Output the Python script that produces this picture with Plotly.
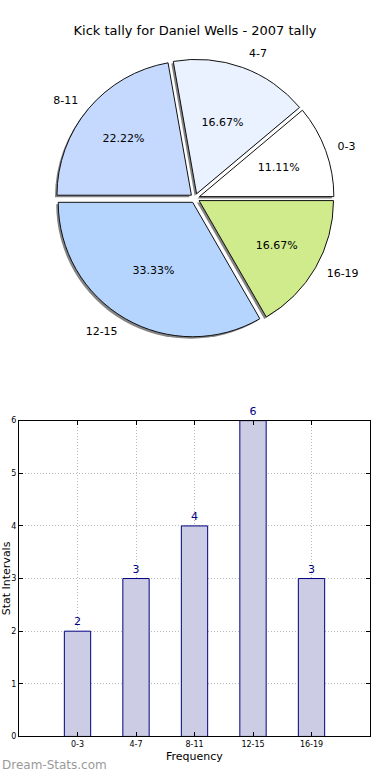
import plotly.graph_objects as go

# ---- data ----
categories = ["0-3", "4-7", "8-11", "12-15", "16-19"]
counts = [2, 3, 4, 6, 3]
pie_colors = ["#ffffff", "#eaf2ff", "#c5d9ff", "#b5d5ff", "#cfeb8c"]
y_ticks = [0, 1, 2, 3, 4, 5, 6]

W, H = 390, 780
FONT = "DejaVu Sans"


def px_x(x):
    return x / W


def px_y(y):
    return 1 - y / H


def dom(cx, cy, r, pull=0.0):
    h = r * (1 + pull)
    return dict(x=[px_x(cx - h), px_x(cx + h)], y=[px_y(cy + h), px_y(cy - h)])


# pie geometry (pixels)
cx, cy, R, pull = 195, 196.5, 136, 0.035
shadow_dx, shadow_dy = -2, 2
label_R = 150
ROT = 50
N = len(counts)
clear = ["rgba(0,0,0,0)"] * N

fig = go.Figure()

# shadow
fig.add_trace(go.Pie(
    labels=categories, values=counts, sort=False, direction="counterclockwise",
    rotation=ROT, pull=[pull] * N,
    marker=dict(colors=["rgba(110,110,110,0.85)"] * N, line=dict(width=0)),
    textinfo="none", hoverinfo="skip",
    domain=dom(cx + shadow_dx, cy + shadow_dy, R, pull),
))

# main pie
fig.add_trace(go.Pie(
    labels=categories, values=counts, sort=False, direction="counterclockwise",
    rotation=ROT, pull=[pull] * N,
    marker=dict(colors=pie_colors, line=dict(color="#111111", width=1)),
    texttemplate="%{percent:.2%}",
    textposition=["none", "none", "none", "none", "inside"],
    insidetextorientation="horizontal",
    textfont=dict(family=FONT, size=11, color="black"),
    domain=dom(cx, cy, R, pull),
))

# transparent pies placing the percentages of the smaller / larger wedges
for scale, pos in [(0.85, ["inside", "inside", "none", "none", "none"]),
                   (1.08, ["none", "none", "inside", "inside", "none"])]:
    fig.add_trace(go.Pie(
        labels=categories, values=counts, sort=False, direction="counterclockwise",
        rotation=ROT, pull=[pull] * N,
        marker=dict(colors=clear, line=dict(width=0)),
        texttemplate="%{percent:.2%}", textposition=pos,
        insidetextorientation="horizontal",
        textfont=dict(family=FONT, size=11, color="black"),
        hoverinfo="skip",
        domain=dom(cx, cy, R * scale, pull),
    ))

# transparent pie carrying the outside labels
fig.add_trace(go.Pie(
    labels=categories, values=counts, sort=False, direction="counterclockwise",
    rotation=ROT,
    marker=dict(colors=clear, line=dict(width=0)),
    textinfo="label", textposition="outside",
    textfont=dict(family=FONT, size=11, color="black"),
    hoverinfo="skip",
    domain=dom(cx, cy, label_R),
))

# bar chart
fig.add_trace(go.Bar(
    x=categories, y=counts, width=0.45,
    marker=dict(color="rgb(204,204,228)", line=dict(color="#000080", width=1)),
    text=counts, texttemplate="%{y}", textposition="outside",
    textfont=dict(family=FONT, size=11, color="#000080"),
    constraintext="none", cliponaxis=False,
    xaxis="x", yaxis="y",
))

axis_common = dict(
    showline=True, linecolor="black", linewidth=1, mirror="ticks",
    ticks="inside", ticklen=4, tickcolor="black",
    showgrid=True, gridcolor="#b8b8b8", griddash="1px,2px", gridwidth=1,
    zeroline=False, tickfont=dict(family=FONT, size=8, color="black"),
)

fig.update_layout(
    width=W, height=H, margin=dict(l=0, r=0, t=0, b=0),
    paper_bgcolor="white", plot_bgcolor="white", showlegend=False,
    title=dict(text="Kick tally for Daniel Wells - 2007 tally",
               x=0.5, xanchor="center", y=px_y(30), yanchor="middle",
               font=dict(family=FONT, size=13, color="black")),
    xaxis=dict(domain=[px_x(19), px_x(370)], anchor="y",
               range=[-1, 5], **axis_common),
    yaxis=dict(domain=[px_y(741), px_y(421.5)], anchor="x",
               range=[0, 6], tickvals=y_ticks, **axis_common),
    annotations=[
        dict(text="Frequency", x=px_x(194.5), y=px_y(761), xref="paper", yref="paper",
             xanchor="center", yanchor="middle", showarrow=False,
             font=dict(family=FONT, size=11, color="black")),
        dict(text="Stat Intervals", x=px_x(6), y=px_y(581), xref="paper", yref="paper",
             xanchor="center", yanchor="middle", textangle=-90, showarrow=False,
             font=dict(family=FONT, size=11, color="black")),
        dict(text="Dream-Stats.com", x=0, y=px_y(770), xref="paper", yref="paper",
             xanchor="left", yanchor="middle", showarrow=False,
             font=dict(family=FONT, size=12, color="#9a9a9a")),
    ],
)

fig.write_html(
    "out.html",
    config={"displayModeBar": False},
    post_script="document.body.style.margin='0';document.body.style.overflow='hidden';",
)
